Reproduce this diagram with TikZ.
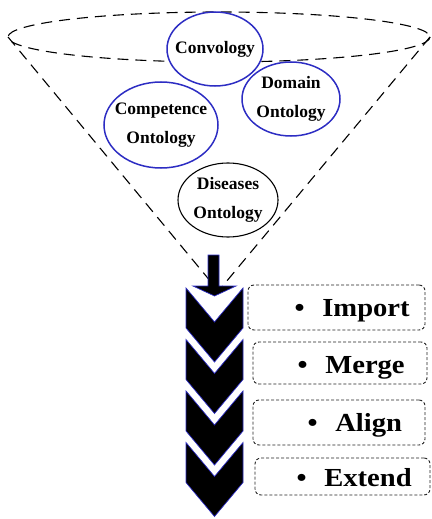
\documentclass[tikz,border=0pt]{standalone}
\usepackage{fontspec}
\setmainfont{Liberation Serif}
\usepackage{graphicx}
\usetikzlibrary{shapes.geometric}
\definecolor{ontoblue}{RGB}{45,45,195}
\definecolor{boxgray}{RGB}{35,35,35}
\begin{document}
\begin{tikzpicture}[x=1pt,y=-1pt,
  funnel/.style={draw=black, line width=1.1pt, dash pattern=on 11pt off 7pt},
  onto/.style={ellipse, draw=ontoblue, line width=1.5pt, fill=white, inner sep=0pt},
  ontotext/.style={align=center, inner sep=0pt,
    font=\bfseries\fontsize{17.5}{28.5}\selectfont},
  stepbox/.style={draw=boxgray, line width=0.9pt, rounded corners=6pt,
    dash pattern=on 3pt off 2pt, inner sep=0pt},
  steptext/.style={anchor=base west, inner sep=0pt,
    font=\bfseries\fontsize{26}{26}\selectfont},
  chev/.style={fill=black, draw=ontoblue, line width=0.7pt, line join=miter}
]
\useasboundingbox (0,0) rectangle (431,519);

% funnel: dashed rim and the two sides meeting under the arrow
\coordinate (rimL) at (8,37);
\coordinate (rimR) at (430,37);
\coordinate (apex) at (218.5,291);
\draw[funnel] (219,37) ellipse [x radius=211, y radius=25];
\draw[funnel] (rimL) -- (apex);
\draw[funnel] (rimR) -- (apex);

% ontologies poured into the funnel
\node[onto, minimum width=96pt, minimum height=74pt,
      label={[ontotext]center:Convology}] (conv) at (215,49) {};
\node[onto, minimum width=98pt, minimum height=74pt,
      label={[ontotext]center:Domain\\Ontology}] (dom) at (291,99) {};
\node[onto, minimum width=114pt, minimum height=86pt,
      label={[ontotext]center:Competence\\Ontology}] (comp) at (161,125) {};
\node[onto, draw=black, line width=1.1pt, minimum width=100pt, minimum height=74pt,
      label={[ontotext]center:Diseases\\Ontology}] (dis) at (228,200) {};

% stacked chevrons of the process
\foreach \k in {0,1,2,3}{
  \pgfmathsetmacro{\yt}{288+51.5*\k}
  \filldraw[chev] (186,\yt) -- (214.5,\yt+34) -- (243,\yt) -- (243,\yt+40)
    -- (214.5,\yt+74) -- (186,\yt+40) -- cycle;
}

% arrow out of the funnel
\filldraw[chev] (208,255) -- (219,255) -- (219,286) -- (236,286) -- (214.5,296)
  -- (193,286) -- (208,286) -- cycle;

% process steps
\node[stepbox, minimum width=177pt, minimum height=45pt] (s1) at (336.5,307.5) {};
\node[stepbox, minimum width=174pt, minimum height=42pt] (s2) at (340,363) {};
\node[stepbox, minimum width=172pt, minimum height=45pt] (s3) at (339,422.5) {};
\node[stepbox, minimum width=175pt, minimum height=37pt] (s4) at (342.5,476.5) {};

\node[steptext] (t1) at (294.5,316) {\scalebox{1.1}[1]{\textbullet\hspace{16pt}Import}};
\node[steptext] (t2) at (297.5,373) {\scalebox{1.1}[1]{\textbullet\hspace{16pt}Merge}};
\node[steptext] (t3) at (307.5,431) {\scalebox{1.1}[1]{\textbullet\hspace{16pt}Align}};
\node[steptext] (t4) at (296.5,486) {\scalebox{1.1}[1]{\textbullet\hspace{16pt}Extend}};
\end{tikzpicture}
\end{document}
